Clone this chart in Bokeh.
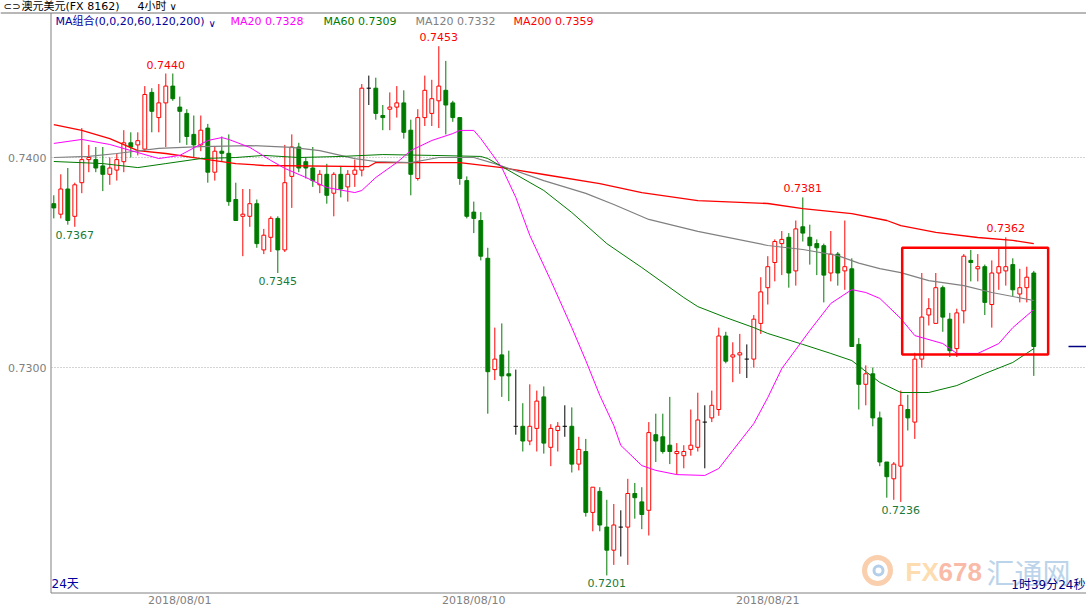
from bokeh.plotting import figure
from bokeh.models import Range1d, BoxAnnotation
from bokeh.core.properties import value
from bokeh.embed import file_html
from bokeh.resources import INLINE

# ---------------- data ----------------
opens = [0.7378,0.7373,0.7385,0.7372,0.7388,0.7399,0.7399,0.7396,0.7392,0.7394,
 0.7398,0.7407,0.7406,0.7404,0.7431,0.7419,0.7426,0.7434,0.7424,0.7421,
 0.7411,0.7406,0.7414,0.7393,0.7403,0.7402,0.7380,0.7372,0.7372,0.7378,
 0.7356,0.7362,0.7371,0.7356,0.7391,0.7405,0.7398,0.7395,0.7387,0.7392,
 0.7383,0.7392,0.7386,0.7392,0.7394,0.7433,0.7433,0.7420,0.7423,0.7424,
 0.7426,0.7413,0.7390,0.7419,0.7421,0.7427,0.7432,0.7426,0.7419,0.7389,
 0.7374,0.7370,0.7352,0.7299,0.7306,0.7297,0.7272,0.7272,0.7265,0.7271,
 0.7286,0.7262,0.7270,0.7272,0.7272,0.7254,0.7260,0.7231,0.7241,0.7224,
 0.7213,0.7224,0.7224,0.7240,0.7236,0.7232,0.7268,0.7267,0.7263,0.7259,
 0.7258,0.7261,0.7262,0.7274,0.7276,0.7280,0.7315,0.7305,0.7306,0.7304,
 0.7304,0.7321,0.7338,0.7350,0.7359,0.7362,0.7346,0.7367,0.7362,0.7359,
 0.7358,0.7345,0.7354,0.7346,0.7347,0.7311,0.7292,0.7297,0.7276,0.7255,
 0.7247,0.7253,0.7280,0.7274,0.7304,0.7325,0.7321,0.7338,0.7323,0.7309,
 0.7327,0.7351,0.7347,0.7348,0.7330,0.7345,0.7346,0.7349,0.7335,0.7338,
 0.7345]
highs = [0.7382,0.7392,0.7395,0.7388,0.7414,0.7406,0.7405,0.7405,0.7400,0.7402,
 0.7413,0.7412,0.7412,0.7434,0.7433,0.7435,0.7440,0.7440,0.7429,0.7423,
 0.7420,0.7420,0.7416,0.7405,0.7410,0.7411,0.7388,0.7385,0.7385,0.7380,
 0.7366,0.7372,0.7372,0.7406,0.7411,0.7407,0.7400,0.7405,0.7394,0.7397,
 0.7393,0.7396,0.7394,0.7399,0.7435,0.7439,0.7438,0.7425,0.7431,0.7434,
 0.7432,0.7418,0.7423,0.7439,0.7437,0.7453,0.7446,0.7427,0.7419,0.7391,
 0.7379,0.7374,0.7357,0.7319,0.7321,0.7308,0.7299,0.7283,0.7292,0.7289,
 0.7291,0.7273,0.7274,0.7282,0.7281,0.7267,0.7266,0.7243,0.7243,0.7237,
 0.7235,0.7232,0.7247,0.7245,0.7243,0.7274,0.7278,0.7278,0.7286,0.7264,
 0.7263,0.7280,0.7288,0.7282,0.7289,0.7319,0.7317,0.7312,0.7316,0.7311,
 0.7325,0.7343,0.7353,0.7361,0.7365,0.7364,0.7370,0.7381,0.7368,0.7361,
 0.7359,0.7365,0.7355,0.7370,0.7352,0.7314,0.7301,0.7300,0.7279,0.7255,
 0.7255,0.7289,0.7287,0.7307,0.7345,0.7333,0.7345,0.7339,0.7326,0.7328,
 0.7354,0.7356,0.7354,0.7349,0.7351,0.7357,0.7362,0.7352,0.7347,0.7348,
 0.7346]
lows = [0.7371,0.7371,0.7368,0.7367,0.7383,0.7393,0.7393,0.7384,0.7387,0.7389,
 0.7393,0.7400,0.7401,0.7403,0.7412,0.7412,0.7405,0.7427,0.7407,0.7406,
 0.7400,0.7403,0.7388,0.7389,0.7398,0.7377,0.7370,0.7353,0.7367,0.7357,
 0.7354,0.7355,0.7345,0.7355,0.7376,0.7393,0.7390,0.7386,0.7383,0.7378,
 0.7372,0.7381,0.7379,0.7386,0.7391,0.7425,0.7418,0.7413,0.7413,0.7419,
 0.7409,0.7382,0.7389,0.7415,0.7415,0.7414,0.7411,0.7417,0.7387,0.7371,
 0.7364,0.7351,0.7278,0.7294,0.7286,0.7284,0.7268,0.7260,0.7263,0.7260,
 0.7259,0.7253,0.7260,0.7267,0.7250,0.7251,0.7229,0.7222,0.7222,0.7201,
 0.7206,0.7210,0.7206,0.7228,0.7223,0.7220,0.7255,0.7259,0.7254,0.7249,
 0.7252,0.7258,0.7260,0.7252,0.7274,0.7277,0.7302,0.7293,0.7297,0.7295,
 0.7300,0.7316,0.7330,0.7341,0.7344,0.7338,0.7339,0.7360,0.7349,0.7344,
 0.7331,0.7341,0.7339,0.7337,0.7310,0.7280,0.7282,0.7272,0.7253,0.7238,
 0.7237,0.7236,0.7270,0.7266,0.7300,0.7320,0.7321,0.7317,0.7305,0.7305,
 0.7321,0.7341,0.7341,0.7325,0.7319,0.7337,0.7339,0.7334,0.7331,0.7331,
 0.7296]
closes = [0.7376,0.7385,0.7370,0.7387,0.7399,0.7400,0.7395,0.7392,0.7395,0.7399,
 0.7407,0.7405,0.7408,0.7430,0.7422,0.7426,0.7434,0.7428,0.7422,0.7410,
 0.7406,0.7413,0.7393,0.7403,0.7402,0.7379,0.7370,0.7373,0.7378,0.7359,
 0.7363,0.7371,0.7356,0.7388,0.7405,0.7395,0.7395,0.7389,0.7392,0.7382,
 0.7392,0.7385,0.7392,0.7394,0.7433,0.7433,0.7421,0.7419,0.7424,0.7426,
 0.7412,0.7392,0.7419,0.7432,0.7428,0.7434,0.7425,0.7419,0.7390,0.7372,
 0.7371,0.7353,0.7298,0.7304,0.7296,0.7296,0.7272,0.7265,0.7272,0.7284,
 0.7264,0.7271,0.7272,0.7272,0.7254,0.7261,0.7231,0.7243,0.7225,0.7213,
 0.7225,0.7224,0.7240,0.7238,0.7230,0.7269,0.7265,0.7260,0.7260,0.7260,
 0.7260,0.7263,0.7275,0.7274,0.7282,0.7315,0.7303,0.7306,0.7307,0.7304,
 0.7323,0.7336,0.7348,0.7360,0.7361,0.7345,0.7366,0.7364,0.7358,0.7357,
 0.7344,0.7354,0.7345,0.7348,0.7310,0.7292,0.7297,0.7276,0.7255,0.7248,
 0.7254,0.7282,0.7276,0.7304,0.7324,0.7328,0.7338,0.7324,0.7308,0.7326,
 0.7353,0.7350,0.7348,0.7331,0.7345,0.7348,0.7348,0.7337,0.7338,0.7343,
 0.7310]

ma20_idx = [0,4,8,11,15,18,22,24,25,28,31,33,36,39,43,44,46,49,51,54,57,58,60,61,64,66,68,71,74,76,
            78,80,81,84,86,89,93,95,97,100,102,104,108,111,114,116,118,121,123,127,129,132,135,137,140]
ma20_val = [0.74067,0.74086,0.74062,0.74033,0.73995,0.74010,0.74081,0.74095,0.74086,0.74048,
            0.73986,0.73948,0.73905,0.73857,0.73833,0.73843,0.73905,0.73976,0.74033,0.74081,
            0.74114,0.74129,0.74129,0.74090,0.73952,0.73810,0.73629,0.73414,0.73190,0.73033,
            0.72867,0.72724,0.72629,0.72533,0.72510,0.72490,0.72486,0.72519,0.72605,0.72733,
            0.72857,0.72995,0.73176,0.73305,0.73371,0.73357,0.73329,0.73233,0.73152,0.73114,
            0.73067,0.73067,0.73114,0.73190,0.73276]
ma60_idx = [0,7,12,16,21,26,30,35,41,47,54,61,62,64,70,74,79,84,90,92,96,100,102,107,111,114,118,121,125,129,133,137,140]
ma60_val = [0.73981,0.73971,0.73952,0.73971,0.73995,0.74000,0.74010,0.74000,0.74005,0.74014,
            0.74010,0.74005,0.73995,0.73957,0.73843,0.73738,0.73590,0.73476,0.73333,0.73290,
            0.73238,0.73190,0.73162,0.73110,0.73067,0.73033,0.72929,0.72881,0.72881,0.72914,
            0.72971,0.73024,0.73090]
ma120_idx = [0,5,9,15,21,28,34,38,43,46,51,55,60,63,70,76,80,85,92,102,107,112,115,118,121,125,130,134,140]
ma120_val = [0.74000,0.74005,0.74019,0.74043,0.74052,0.74057,0.74048,0.74033,0.73995,0.73981,
             0.73976,0.74000,0.74000,0.73971,0.73890,0.73829,0.73776,0.73705,0.73648,0.73581,
             0.73562,0.73533,0.73497,0.73471,0.73452,0.73414,0.73390,0.73357,0.73319]
ma200_idx = [0,4,8,12,16,21,26,30,45,46,58,64,70,78,84,92,102,107,114,119,121,126,132,137,140]
ma200_val = [0.74157,0.74129,0.74090,0.74033,0.74019,0.73995,0.73971,0.73962,0.73957,0.73976,
             0.73976,0.73952,0.73919,0.73876,0.73833,0.73795,0.73781,0.73757,0.73733,0.73700,
             0.73676,0.73643,0.73619,0.73605,0.73590]

x_tick_idx = [18, 60, 102]
x_tick_labels = ["2018/08/01", "2018/08/10", "2018/08/21"]
y_ticks = [0.7400, 0.7300]
hi_label_idx = [16, 55, 107, 136]
lo_label_idx = [3, 32, 79, 121]
box_left_idx, box_right_idx, box_top, box_bottom = 121.2, 142.05, 0.7357, 0.73062

# ---------------- layout helpers (reference pixel -> data) ----------------
W, H = 1086, 607
def px2i(X):
    return (X - 53.3) / 7.0
def py2p(Y):
    return 0.74 + (157.0 - Y) / 21000.0

LAT = "DejaVu Sans"
CJK = "Noto Sans CJK SC"
MIX = "DejaVu Sans, Noto Sans CJK SC"
RED = "#ff0000"
GREEN = "#007a00"
GRAY = "#808080"

p = figure(width=W, height=H, output_backend="svg", toolbar_location=None,
           x_axis_location=None, y_axis_location=None, min_border=0,
           x_range=Range1d(px2i(0), px2i(W)), y_range=Range1d(py2p(H), py2p(0)),
           outline_line_color=None, background_fill_color="white", border_fill_color="white")
p.grid.visible = False

def txt(X, Y, s, color, size, font=LAT, align="left", bold=False):
    p.text(x=[px2i(X)], y=[py2p(Y)], text=[s], text_color=color,
           text_font=value(font), text_font_size=value(f"{size}px"),
           text_align=align, text_baseline="middle",
           text_font_style="bold" if bold else "normal")

# frame lines
p.segment(x0=[px2i(0)], x1=[px2i(1090)], y0=[py2p(12.5)], y1=[py2p(12.5)], line_color="#707070", line_width=1)
p.segment(x0=[px2i(50.5)], x1=[px2i(50.5)], y0=[py2p(12.5)], y1=[py2p(592.5)], line_color=GRAY, line_width=1)
p.segment(x0=[px2i(50.5)], x1=[px2i(1090)], y0=[py2p(592.5)], y1=[py2p(592.5)], line_color=GRAY, line_width=1)

# dotted price grid
p.segment(x0=[px2i(51)] * len(y_ticks), x1=[px2i(1090)] * len(y_ticks), y0=y_ticks, y1=y_ticks,
          line_color="#a8a8a8", line_dash="1 2", line_width=1)
p.text(x=[px2i(46)] * len(y_ticks), y=y_ticks, text=[f"{v:.4f}" for v in y_ticks],
       text_color=GRAY, text_font=value(LAT), text_font_size=value("11px"),
       text_align="right", text_baseline="middle")

# date labels
p.text(x=x_tick_idx, y=[py2p(600)] * len(x_tick_idx), text=x_tick_labels,
       text_color=GRAY, text_font=value(LAT), text_font_size=value("11px"),
       text_align="center", text_baseline="middle")

# watermark
p.scatter(x=[px2i(877)], y=[py2p(570)], marker="circle", size=26, fill_color=None,
          line_color="#f9cfae", line_width=5)
p.scatter(x=[px2i(878)], y=[py2p(570)], marker="circle", size=9, fill_color=None,
          line_color="#b5cfe8", line_width=3)
txt(905, 571, "FX", "#fddcb0", 26, font="Liberation Sans", bold=True)
txt(938, 571, "678", "#f9bba8", 26, font="Liberation Sans", bold=True)
txt(986, 571, "汇通网", "#bcd4ea", 28, font=CJK)

# candles
n = len(closes)
idx = list(range(n))
wick_col = [RED if closes[i] > opens[i] else (GREEN if closes[i] < opens[i] else "black") for i in idx]
p.segment(x0=idx, x1=idx, y0=lows, y1=highs, line_color=wick_col, line_width=1)
up = [i for i in idx if closes[i] > opens[i]]
dn = [i for i in idx if closes[i] < opens[i]]
dj = [i for i in idx if closes[i] == opens[i]]
p.vbar(x=up, width=0.55, top=[closes[i] for i in up], bottom=[opens[i] for i in up],
       fill_color="white", line_color=RED, line_width=1)
p.vbar(x=dn, width=0.55, top=[opens[i] for i in dn], bottom=[closes[i] for i in dn],
       fill_color=GREEN, line_color=GREEN, line_width=1)
p.segment(x0=[i - 0.31 for i in dj], x1=[i + 0.31 for i in dj],
          y0=[closes[i] for i in dj], y1=[closes[i] for i in dj], line_color="black", line_width=1)

# moving averages
p.line(ma200_idx, ma200_val, line_color=RED, line_width=1.3)
p.line(ma120_idx, ma120_val, line_color=GRAY, line_width=1.2)
p.line(ma60_idx, ma60_val, line_color=GREEN, line_width=1)
p.line(ma20_idx, ma20_val, line_color="#ff00ff", line_width=1)

# high / low labels
gap_hi = 9 / 21000.0
gap_lo = 8 / 21000.0
p.text(x=hi_label_idx, y=[highs[i] + gap_hi for i in hi_label_idx],
       text=[f"{highs[i]:.4f}" for i in hi_label_idx], text_color=RED,
       text_font=value(LAT), text_font_size=value("11px"), text_align="center", text_baseline="middle")
p.text(x=lo_label_idx, y=[lows[i] - gap_lo for i in lo_label_idx],
       text=[f"{lows[i]:.4f}" for i in lo_label_idx], text_color="#1a7a3a",
       text_font=value(LAT), text_font_size=value("11px"), text_align="center", text_baseline="middle")

# highlight box
p.add_layout(BoxAnnotation(left=box_left_idx, right=box_right_idx, top=box_top, bottom=box_bottom,
                           fill_alpha=0, fill_color=None, line_color=RED, line_alpha=1.0, line_width=2.5))

# last price marker
p.segment(x0=[px2i(1068)], x1=[px2i(1090)], y0=[closes[-1]], y1=[closes[-1]],
          line_color="#000080", line_width=1.5)

# title row
txt(3, 6, "⊂⊃", "black", 10)
txt(21, 6, "澳元美元(FX 8162)", "black", 11, font=MIX)
txt(137, 6, "4小时", "black", 11, font=MIX)
txt(169, 6, "∨", "black", 10)

# legend row
txt(55, 21, "MA组合(0,0,20,60,120,200)", "#0000a0", 11, font=MIX)
txt(208, 23, "∨", "#0000a0", 10)
legend = [("MA20", ma20_val[-1], "#ff00ff", 230), ("MA60", ma60_val[-1], GREEN, 323),
          ("MA120", ma120_val[-1], GRAY, 415), ("MA200", ma200_val[-1], RED, 513)]
for name, v, col, X in legend:
    txt(X, 21, f"{name} {v:.4f}", col, 11)

# bottom texts
txt(51, 583, "24天", "#0000a0", 12, font=MIX)
txt(1085, 584, "1时39分24秒", "#000080", 12, font=MIX, align="right")

open("out.html", "w").write(file_html(p, INLINE))
